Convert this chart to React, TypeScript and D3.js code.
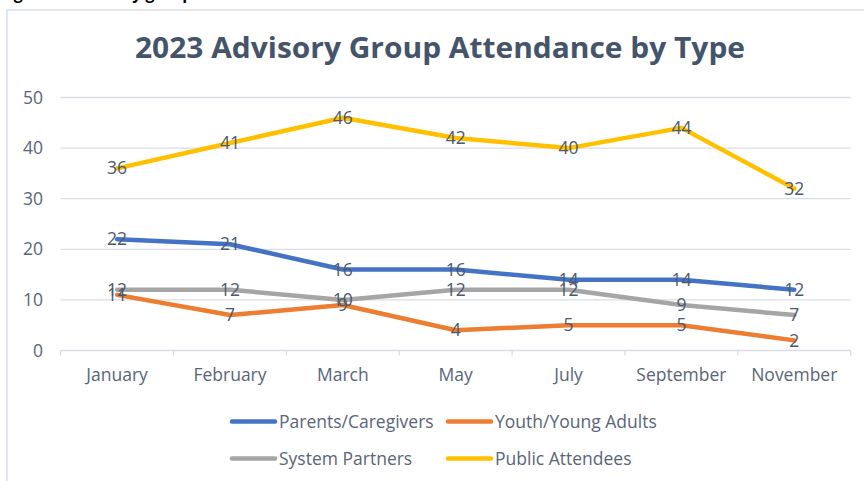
import React from "react";
import * as d3 from "d3";

const months = ["January", "February", "March", "May", "July", "September", "November"];
const parents = [22, 21, 16, 16, 14, 14, 12];
const youth = [11, 7, 9, 4, 5, 5, 2];
const partners = [12, 12, 10, 12, 12, 9, 7];
const publicAtt = [36, 41, 46, 42, 40, 44, 32];
const seriesNames = ["Parents/Caregivers", "Youth/Young Adults", "System Partners", "Public Attendees"];
const seriesColors = ["#4472c4", "#ed7d31", "#a5a5a5", "#ffc000"];
const yTicks = [0, 10, 20, 30, 40, 50];
const title = "2023 Advisory Group Attendance by Type";
const caption = "Figure 3: Advisory group attendance";

export default function App() {
  const W = 864, H = 481;
  const series = [parents, youth, partners, publicAtt];
  const x = d3.scaleBand<string>().domain(months).range([60.7, 850.7]);
  const y = d3.scaleLinear().domain([0, 50]).range([350.5, 97.5]);
  const line = d3.line<number>()
    .x((_, i) => (x(months[i]) as number) + x.bandwidth() / 2)
    .y((d) => y(d));
  const font = "'Open Sans', 'Noto Sans', sans-serif";
  const axisColor = "#d9dde4";
  const textColor = "#5a6578";
  const labelColor = "#4d596c";
  const boundaries = months.map((m) => x(m) as number).concat([x.range()[1]]);

  return (
    <svg width={W} height={H} style={{ position: "absolute", left: 0, top: 0, background: "#fff" }}>
      <rect x={0} y={0} width={W} height={H} fill="#ffffff" />
      <text x={0} y={-1} fontFamily={font} fontWeight={700} fontSize={16} fill="#000">{caption}</text>
      {/* frame */}
      <line x1={7} x2={W} y1={10} y2={10} stroke={axisColor} strokeWidth={1.5} />
      <line x1={7} x2={7} y1={10} y2={H} stroke={axisColor} strokeWidth={1.5} />
      {/* title */}
      <text x={440} y={58} textAnchor="middle" fontFamily={font} fontWeight={700} fontSize={29}
        fill="#44546a" textLength={610} lengthAdjust="spacingAndGlyphs">{title}</text>
      {/* gridlines */}
      {yTicks.map((t) => (
        <g key={t}>
          <line x1={x.range()[0]} x2={x.range()[1]} y1={y(t)} y2={y(t)} stroke={axisColor} strokeWidth={1.3} />
          <text x={43} y={y(t)} dy="0.35em" textAnchor="end" fontFamily={font} fontSize={17.5} fill={textColor}>{t}</text>
        </g>
      ))}
      {/* x tick marks */}
      {boundaries.map((b, i) => (
        <line key={i} x1={b} x2={b} y1={y(0)} y2={y(0) + 5} stroke={axisColor} strokeWidth={1.3} />
      ))}
      {months.map((m) => (
        <text key={m} x={(x(m) as number) + x.bandwidth() / 2} y={381} textAnchor="middle"
          fontFamily={font} fontSize={17.5} fill={textColor}>{m}</text>
      ))}
      {/* lines */}
      {series.map((s, si) => (
        <path key={si} d={line(s) as string} fill="none" stroke={seriesColors[si]} strokeWidth={4.5}
          strokeLinejoin="round" strokeLinecap="round" />
      ))}
      {/* data labels */}
      {series.map((s, si) => (
        <g key={si}>
          {s.map((v, i) => (
            <text key={i} x={(x(months[i]) as number) + x.bandwidth() / 2} y={y(v)} dy="0.35em"
              textAnchor="middle" fontFamily={font} fontSize={17.5} fill={labelColor}>{v}</text>
          ))}
        </g>
      ))}
      {/* legend */}
      {seriesNames.map((n, i) => {
        const col = i % 2;
        const row = Math.floor(i / 2);
        const lx = col === 0 ? 230 : 446;
        const ly = row === 0 ? 421.5 : 458.5;
        return (
          <g key={n}>
            <line x1={lx + 2} x2={lx + 45} y1={ly} y2={ly} stroke={seriesColors[i]} strokeWidth={4.5} strokeLinecap="round" />
            <text x={lx + 49} y={ly} dy="0.35em" fontFamily={font} fontSize={17.5} fill={textColor}>{n}</text>
          </g>
        );
      })}
    </svg>
  );
}
